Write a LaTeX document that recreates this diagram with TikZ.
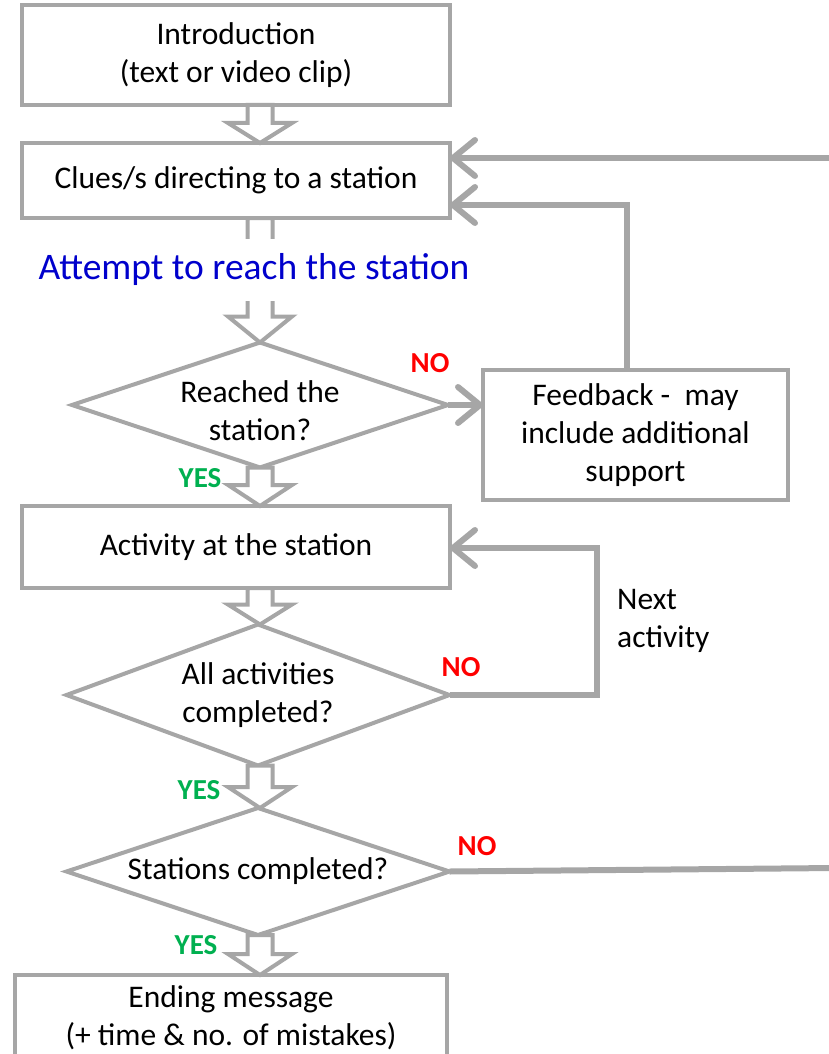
\documentclass[tikz,border=0pt]{standalone}
\usepackage{fontspec}
\setmainfont{Carlito}
\usetikzlibrary{arrows.meta,shapes.geometric,calc}
\definecolor{lgray}{RGB}{166,166,166}
\definecolor{noRed}{RGB}{255,0,0}
\definecolor{yesGreen}{RGB}{0,176,80}
\definecolor{attBlue}{RGB}{0,0,204}
\newcommand\hollowarr[3]{%
  \path[hollow] let \p1=(#1), \p2=(#2) in
    (\x2-12.5pt,\y1) -- (\x2+12.5pt,\y1) -- (\x2+12.5pt,\y2+#3) -- (\x2+32pt,\y2+#3)
    -- (\x2,\y2) -- (\x2-32pt,\y2+#3) -- (\x2-12.5pt,\y2+#3) -- cycle;}
\begin{document}
\begin{tikzpicture}[x=1pt,y=-1pt,
  box/.style={rectangle,draw=lgray,line width=4pt,fill=white,inner sep=0pt,outer sep=0pt},
  dec/.style={diamond,draw=lgray,line width=4pt,fill=white,inner sep=0pt,outer sep=0pt},
  txt/.style={font=\fontsize{31.5}{38}\selectfont,align=center,text=black},
  conn/.style={draw=lgray,line width=6pt,-{Straight Barb[length=22pt,width=36pt,round]}},
  plainline/.style={draw=lgray,line width=6pt},
  hollow/.style={draw=lgray,line width=4pt,fill=white,line join=miter},
  nolab/.style={font=\fontsize{29}{32}\selectfont\bfseries,text=noRed},
  yeslab/.style={font=\fontsize{29}{32}\selectfont\bfseries,text=yesGreen},
]
\useasboundingbox (0,0) rectangle (829,1054);
\clip (0,0) rectangle (829,1054);

\coordinate (spine) at (260,0);

% boxes
\node[box,txt,minimum width=428pt,minimum height=100pt] (intro) at (236,55) {Introduction\\(text or video clip)};
\node[box,txt,minimum width=428pt,minimum height=75pt] (clues) at (236,180.5) {Clues/s directing to a station};
\node[box,txt,minimum width=305pt,minimum height=130pt] (fb) at (635.5,435) {Feedback -~~may\\include additional\\support};
\node[box,txt,minimum width=428pt,minimum height=82pt] (activity) at (236,547) {Activity at the station};
\node[box,txt,minimum width=432pt,minimum height=86pt] (ending) at (231,1018) {Ending message\\(+ time \& no. of mistakes)};

% decisions
\node[dec,minimum width=376pt,minimum height=125pt,
  label={[txt,yshift=-6pt]center:Reached the\\station?}] (d1) at (260,405) {};
\node[dec,minimum width=383pt,minimum height=141pt,
  label={[txt]center:All activities\\completed?}] (d2) at (258,695) {};
\node[dec,minimum width=383pt,minimum height=127pt,
  label={[txt]center:Stations completed?}] (d3) at (258,871.5) {};

% hollow arrows
\hollowarr{intro.south -| spine}{clues.north -| spine}{20pt}
\hollowarr{clues.south -| spine}{d1.north -| spine}{26pt}
\hollowarr{d1.south -| spine}{activity.north -| spine}{21pt}
\hollowarr{activity.south -| spine}{d2.north -| spine}{20pt}
\hollowarr{d2.south -| spine}{d3.north -| spine}{21pt}
\hollowarr{d3.south -| spine}{ending.north -| spine}{21pt}

% attempt text over arrow
\node[fill=white,inner xsep=2pt,minimum height=62pt,font=\fontsize{37.5}{42}\selectfont,text=attBlue] (attempt) at (254,270) {Attempt to reach the station};

% connectors
\coordinate (rin) at (835,158);
\draw[conn] (rin) -- (rin -| clues.east);
\coordinate (fbup) at (627,205);
\draw[conn] (fb.north -| fbup) -- (fbup) -- (fbup -| clues.east);
\draw[conn] (d1.east) -- (fb.west |- d1.east);
\coordinate (loop2) at (597,548);
\draw[conn] (d2.east) -- (d2.east -| loop2) -- (loop2) -- (activity.east |- loop2);
\coordinate (rout) at (835,868);
\draw[plainline] (d3.east) -- (rout);

% labels
\node[nolab] (no1) at (430,363) {NO};
\node[nolab] (no2) at (461,667) {NO};
\node[nolab] (no3) at (477,846) {NO};
\node[yeslab] (yes1) at (200,478) {YES};
\node[yeslab] (yes2) at (199,790) {YES};
\node[yeslab] (yes3) at (196,945) {YES};
\node[txt,align=left,anchor=west,inner sep=0pt] (nextact) at (617,621) {Next\\activity};
\end{tikzpicture}
\end{document}
